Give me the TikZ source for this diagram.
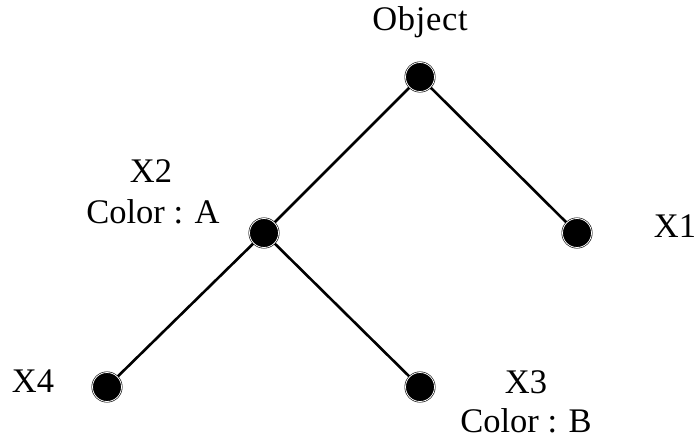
\documentclass[tikz,border=0pt]{standalone}
\usepackage{fontspec}
\setmainfont{Liberation Serif}
\begin{document}
\begin{tikzpicture}[x=1pt,y=-1pt,
  vertex/.style={circle,fill=black,draw=black,line width=0.6pt,double=white,double distance=0.8pt,minimum size=29pt,inner sep=0pt},
  edge/.style={line width=2.6pt,black},
  lbl/.style={font=\fontsize{34.5}{40}\selectfont,inner sep=0pt,anchor=base}]
\useasboundingbox (0,0) rectangle (698,438);
% tree vertices (coordinates only; discs are drawn after the edges)
\coordinate (obj) at (420,77);
\coordinate (x2) at (264,233);
\coordinate (x1) at (577,233);
\coordinate (x4) at (107,387);
\coordinate (x3) at (420,387);
% edges
\draw[edge] (obj) -- (x2);
\draw[edge] (obj) -- (x1);
\draw[edge] (x2) -- (x4);
\draw[edge] (x2) -- (x3);
% vertex discs on top of the edges
\node[vertex] (vobj) at (obj) {};
\node[vertex] (vx2) at (x2) {};
\node[vertex] (vx1) at (x1) {};
\node[vertex] (vx4) at (x4) {};
\node[vertex] (vx3) at (x3) {};
% labels
\node[lbl] (tobj) at (420,31) {\addfontfeature{LetterSpace=2}Object};
\node[lbl] (tx2) at (151,183) {X2};
\node[lbl] (tca) at (153,224) {Color : A};
\node[lbl] (tx1) at (675,237) {X1};
\node[lbl] (tx4) at (33,392) {X4};
\node[lbl] (tx3) at (526,393) {X3};
\node[lbl] (tcb) at (526,432) {Color : B};
\end{tikzpicture}
\end{document}
